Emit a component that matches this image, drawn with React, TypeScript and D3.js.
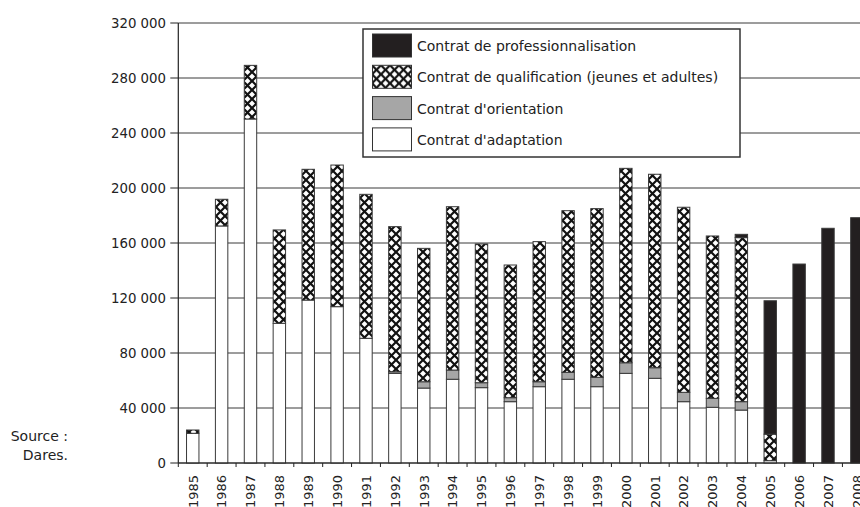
import React from 'react';
import * as d3 from 'd3';

// years on the x axis
const years = [
  '1985', '1986', '1987', '1988', '1989', '1990', '1991', '1992', '1993', '1994', '1995', '1996',
  '1997', '1998', '1999', '2000', '2001', '2002', '2003', '2004', '2005', '2006', '2007', '2008',
];

// entries per year, by contract type
const adaptation = [
  21600, 172400, 250200, 101600, 118500, 113700, 90700, 65200, 54500, 60900, 54800, 44600,
  55500, 60900, 55500, 65200, 61600, 44600, 40500, 38500, 1700, 0, 0, 0,
];
const orientation = [
  0, 0, 0, 0, 0, 0, 0, 1200, 4600, 6700, 3600, 2900,
  3600, 5000, 6800, 7700, 7700, 6800, 6500, 6100, 0, 0, 0, 0,
];
const qualification = [
  2400, 19400, 39000, 67900, 95100, 103000, 104700, 105500, 97000, 118800, 100900, 96500,
  101900, 117600, 122700, 141400, 140700, 134600, 118100, 119300, 19300, 0, 0, 0,
];
const professionnalisation = [
  0, 0, 0, 0, 0, 0, 0, 0, 0, 0, 0, 0,
  0, 0, 0, 0, 0, 0, 0, 2400, 97000, 144700, 170700, 178400,
];

const yTicks = [0, 40000, 80000, 120000, 160000, 200000, 240000, 280000, 320000];

const legendItems = [
  { label: 'Contrat de professionnalisation', fill: '#231f20' },
  { label: 'Contrat de qualification (jeunes et adultes)', fill: 'url(#cross)' },
  { label: "Contrat d'orientation", fill: '#a6a6a6' },
  { label: "Contrat d'adaptation", fill: '#ffffff' },
];

const keys = ['adaptation', 'orientation', 'qualification', 'professionnalisation'];
const fills: Record<string, string> = {
  adaptation: '#ffffff',
  orientation: '#a6a6a6',
  qualification: 'url(#cross)',
  professionnalisation: '#231f20',
};

const FONT = 'DejaVu Sans, Verdana, sans-serif';

export default function App() {
  const width = 860;
  const height = 507;
  const left = 178.3;
  const bottom = 463;
  const top = 23;
  const step = 28.875;
  const right = left + step * years.length;

  const x = d3.scaleBand<string>().domain(years).range([left, right]).paddingInner(0.57).paddingOuter(0.285);
  const y = d3.scaleLinear().domain([0, 320000]).range([bottom, top]);

  const rows = years.map((yr, i) => ({
    year: yr,
    adaptation: adaptation[i],
    orientation: orientation[i],
    qualification: qualification[i],
    professionnalisation: professionnalisation[i],
  }));
  const series = d3.stack<any>().keys(keys)(rows);

  const fmt = (v: number) => d3.format(',')(v).replace(/,/g, ' ');
  const tickXs = d3.range(years.length + 1).map(i => left + i * step);

  return (
    <svg width={width} height={height} style={{ position: 'absolute', left: 0, top: 0, background: '#fff' }}>
      <defs>
        <pattern id="cross" patternUnits="userSpaceOnUse" width={9} height={9}>
          <rect width={9} height={9} fill="#fff" />
          <path d="M0,0L9,9M9,0L0,9" stroke="#111" strokeWidth={2.2} />
        </pattern>
      </defs>

      {/* grid */}
      {yTicks.map(t => (
        <line key={t} x1={left} x2={right} y1={y(t)} y2={y(t)} stroke="#3a3a3a" strokeWidth={1} />
      ))}

      {/* bars */}
      {series.map(s => (
        <g key={s.key}>
          {s.map((d, i) => {
            const h = y(d[0]) - y(d[1]);
            if (h <= 0) return null;
            return (
              <rect
                key={i}
                x={x(years[i])}
                y={y(d[1])}
                width={x.bandwidth()}
                height={h}
                fill={fills[s.key]}
                stroke="#3a3a3a"
                strokeWidth={1}
              />
            );
          })}
        </g>
      ))}

      {/* y axis */}
      <line x1={left} x2={left} y1={top} y2={bottom} stroke="#222" strokeWidth={1.2} />
      {yTicks.map(t => (
        <g key={t}>
          <line x1={left - 8} x2={left} y1={y(t)} y2={y(t)} stroke="#222" />
          <text x={166} y={y(t) + 4.8} textAnchor="end" fontFamily={FONT} fontSize={13.3} fill="#222">
            {fmt(t)}
          </text>
        </g>
      ))}

      {/* x axis */}
      <line x1={left} x2={right} y1={bottom} y2={bottom} stroke="#222" strokeWidth={1.2} />
      {tickXs.map((tx, i) => (
        <line key={i} x1={tx} x2={tx} y1={bottom} y2={bottom + 4} stroke="#222" />
      ))}
      {years.map(yr => (
        <text
          key={yr}
          transform={`translate(${x(yr)! + x.bandwidth() / 2 + 4.8},${475}) rotate(-90)`}
          textAnchor="end"
          fontFamily={FONT}
          fontSize={13}
          fill="#222"
        >
          {yr}
        </text>
      ))}

      {/* legend */}
      <rect x={363} y={29} width={377} height={128} fill="#fff" stroke="#333" strokeWidth={1.5} />
      {legendItems.map((it, i) => (
        <g key={it.label} transform={`translate(372,${34 + i * 31.3})`}>
          <rect x={0.5} y={0} width={39} height={23} fill={it.fill} stroke="#333" strokeWidth={1} />
          <text x={45} y={17} fontFamily={FONT} fontSize={14} fill="#222">
            {it.label}
          </text>
        </g>
      ))}

      {/* source */}
      <text x={68} y={441} textAnchor="end" fontFamily={FONT} fontSize={14} fill="#222">Source :</text>
      <text x={68} y={460} textAnchor="end" fontFamily={FONT} fontSize={14} fill="#222">Dares.</text>
    </svg>
  );
}
